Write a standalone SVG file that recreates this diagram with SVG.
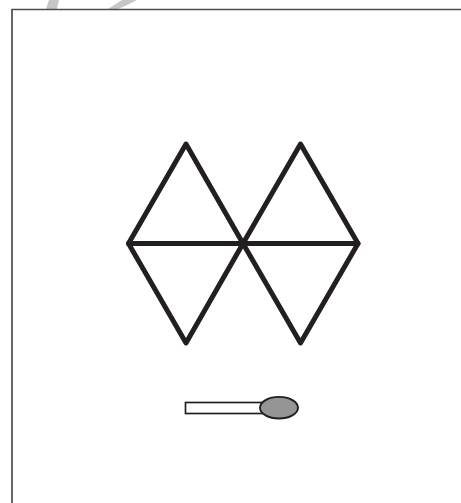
<svg xmlns="http://www.w3.org/2000/svg" width="461" height="503" viewBox="0 0 461 503">
<style>
.l{fill:none;stroke:#231f20;stroke-width:5;stroke-linecap:round;stroke-linejoin:round}
</style>
<rect width="461" height="503" fill="#fff"/>
<g id="watermark"><path d="M46 9L49 0H59L57 9Z" fill="#c6c6c6"/><path d="M108 9Q114 5 122 0H137Q128 5 118 9Z" fill="#c6c6c6"/></g>
<g id="frame"><path d="M12 503V9.500H461" fill="none" stroke="#4d4d4d" stroke-width="1.700"/></g>
<g id="triangles">
<path class="l" d="M186 144L128.500 243.500L186 343L243 243.500Z"/>
<path class="l" d="M300.500 144L243 243.500L300.500 343L358 243.500Z"/>
<path class="l" d="M128.500 243.500H358"/>
</g>
<g id="match">
<rect x="185.500" y="402.500" width="80" height="11" fill="#fff" stroke="#231f20" stroke-width="1.700"/>
<ellipse cx="279" cy="407.700" rx="19" ry="10.800" fill="#959595" stroke="#231f20" stroke-width="1.900"/>
</g>
</svg>
